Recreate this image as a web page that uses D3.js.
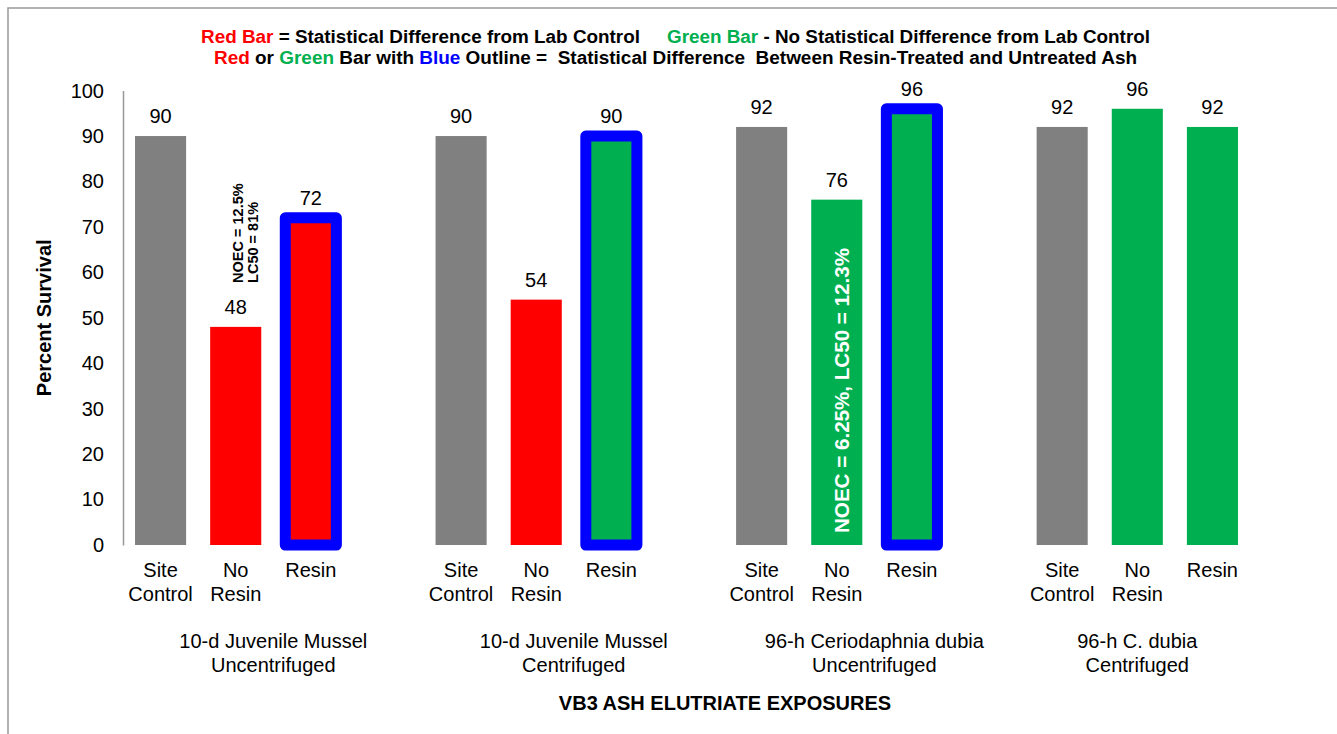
<!DOCTYPE html>
<html>
<head>
<meta charset="utf-8">
<script src="https://cdn.jsdelivr.net/npm/d3@7"></script>
<style>
  body { margin: 0; background: #fff; }
  svg text { font-family: Arial, "Liberation Sans", sans-serif; white-space: pre; }
</style>
</head>
<body>
<div id="chart"></div>
<script>
// Chart data
const groupLabels = [
  ["10-d Juvenile Mussel", "Uncentrifuged"],
  ["10-d Juvenile Mussel", "Centrifuged"],
  ["96-h Ceriodaphnia dubia", "Uncentrifuged"],
  ["96-h C. dubia", "Centrifuged"]
];
const treatments = [["Site", "Control"], ["No", "Resin"], ["Resin"]];
const survival = [
  [90, 48, 72],
  [90, 54, 90],
  [92, 76, 96],
  [92, 96, 92]
];
const barStatus = [
  ["control", "diff", "diff"],
  ["control", "diff", "same"],
  ["control", "same", "same"],
  ["control", "same", "same"]
];
const outlined = [
  [false, false, true],
  [false, false, true],
  [false, false, true],
  [false, false, false]
];
const yTicks = [0, 10, 20, 30, 40, 50, 60, 70, 80, 90, 100];

const colors = { control: "#808080", diff: "#ff0000", same: "#00b050", outline: "#0000ff" };

const width = 1337;
const height = 734;

const svg = d3.select("#chart")
  .append("svg")
  .attr("width", width)
  .attr("height", height);

// Outer frame (only left and top edges fall inside the window)
svg.append("rect")
  .attr("x", 8).attr("y", 8)
  .attr("width", 1400).attr("height", 800)
  .attr("fill", "none")
  .attr("stroke", "#999")
  .attr("stroke-width", 1.5);

// Slots: three bars per group plus a blank slot between groups
const slots = [];
groupLabels.forEach((g, gi) => {
  treatments.forEach((t, ti) => slots.push(`${gi}-${ti}`));
  if (gi < groupLabels.length - 1) slots.push(`${gi}-gap`);
});

const x = d3.scaleBand()
  .domain(slots)
  .range([123, 1250])
  .paddingInner(0.32)
  .paddingOuter(0.16);

const y = d3.scaleLinear()
  .domain([0, 100])
  .range([545, 90.6]);

// Flatten bars
const bars = [];
survival.forEach((vals, gi) => {
  vals.forEach((v, ti) => {
    bars.push({ key: `${gi}-${ti}`, value: v, status: barStatus[gi][ti], outline: outlined[gi][ti] });
  });
});

// Y axis
const yAxis = svg.append("g")
  .attr("transform", `translate(123,0)`)
  .call(d3.axisLeft(y).tickValues(yTicks).tickSize(0).tickPadding(19));
yAxis.select(".domain").attr("stroke", "#999").attr("stroke-width", 1.5);
yAxis.selectAll("text")
  .attr("font-size", 20)
  .attr("fill", "#000")
  .style("font-family", "Arial, 'Liberation Sans', sans-serif");

svg.append("text")
  .attr("transform", `translate(51,${(y(0) + y(100)) / 2}) rotate(-90)`)
  .attr("text-anchor", "middle")
  .attr("font-size", 20)
  .attr("font-weight", "bold")
  .text("Percent Survival");

// Bars
svg.append("g")
  .selectAll("rect")
  .data(bars)
  .enter().append("rect")
  .attr("x", d => x(d.key))
  .attr("y", d => y(d.value))
  .attr("width", x.bandwidth())
  .attr("height", d => y(0) - y(d.value))
  .attr("fill", d => colors[d.status])
  .attr("stroke", d => d.outline ? colors.outline : "none")
  .attr("stroke-width", d => d.outline ? 11 : 0)
  .attr("stroke-linejoin", "round");

// Value labels
svg.append("g")
  .selectAll("text")
  .data(bars)
  .enter().append("text")
  .attr("x", d => x(d.key) + x.bandwidth() / 2)
  .attr("y", d => y(d.value) - 13)
  .attr("text-anchor", "middle")
  .attr("font-size", 20)
  .text(d => d.value);

// Treatment labels
const treatG = svg.append("g");
bars.forEach(d => {
  const lines = treatments[+d.key.split("-")[1]];
  const t = treatG.append("text")
    .attr("x", x(d.key) + x.bandwidth() / 2)
    .attr("y", 577)
    .attr("text-anchor", "middle")
    .attr("font-size", 20);
  lines.forEach((line, i) => {
    t.append("tspan")
      .attr("x", x(d.key) + x.bandwidth() / 2)
      .attr("dy", i === 0 ? 0 : 24)
      .text(line);
  });
});

// Group labels, centred over the group's slots
const slotStart = key => x(key) - x.step() * x.paddingOuter();
groupLabels.forEach((lines, gi) => {
  const first = `${gi}-0`;
  const lastKey = gi < groupLabels.length - 1 ? `${gi}-gap` : `${gi}-2`;
  const cx = (slotStart(first) + slotStart(lastKey) + x.step()) / 2;
  const t = svg.append("text")
    .attr("text-anchor", "middle")
    .attr("font-size", 20)
    .attr("y", 648);
  lines.forEach((line, i) => {
    t.append("tspan").attr("x", cx).attr("dy", i === 0 ? 0 : 24).text(line);
  });
});

// X axis title
svg.append("text")
  .attr("x", 725)
  .attr("y", 710)
  .attr("text-anchor", "middle")
  .attr("font-size", 20)
  .attr("font-weight", "bold")
  .text("VB3 ASH ELUTRIATE EXPOSURES");

// Annotations
const nr1 = x("0-1") + x.bandwidth() / 2;
const ann1 = svg.append("g")
  .attr("font-size", 14.5)
  .attr("font-weight", "bold");
ann1.append("text")
  .attr("transform", `translate(${nr1 + 7},${y(48) - 44}) rotate(-90)`)
  .text("NOEC = 12.5%");
ann1.append("text")
  .attr("transform", `translate(${nr1 + 22},${y(48) - 44}) rotate(-90)`)
  .text("LC50 = 81%");

const nr3 = x("2-1") + x.bandwidth() / 2;
svg.append("text")
  .attr("transform", `translate(${nr3 + 12},${y(0) - 12}) rotate(-90)`)
  .attr("font-size", 20.5)
  .attr("font-weight", "bold")
  .attr("fill", "#fff")
  .attr("textLength", 285)
  .attr("lengthAdjust", "spacingAndGlyphs")
  .text("NOEC = 6.25%, LC50 = 12.3%");

// Legend text
function legendLine(xStart, xEnd, yPos, parts) {
  const t = svg.append("text")
    .attr("x", xStart)
    .attr("y", yPos)
    .attr("font-size", 18)
    .attr("font-weight", "bold")
    .attr("textLength", xEnd - xStart)
    .attr("lengthAdjust", "spacingAndGlyphs");
  parts.forEach(p => t.append("tspan").attr("fill", p[1]).text(p[0]));
}
legendLine(201, 640, 43, [
  ["Red Bar", colors.diff],
  [" = Statistical Difference from Lab Control", "#000"]
]);
legendLine(667, 1150, 43, [
  ["Green Bar", colors.same],
  [" - No Statistical Difference from Lab Control", "#000"]
]);
legendLine(214, 1137, 64, [
  ["Red", colors.diff],
  [" or ", "#000"],
  ["Green", colors.same],
  [" Bar with ", "#000"],
  ["Blue", colors.outline],
  [" Outline =  Statistical Difference  Between Resin-Treated and Untreated Ash", "#000"]
]);
</script>
</body>
</html>
